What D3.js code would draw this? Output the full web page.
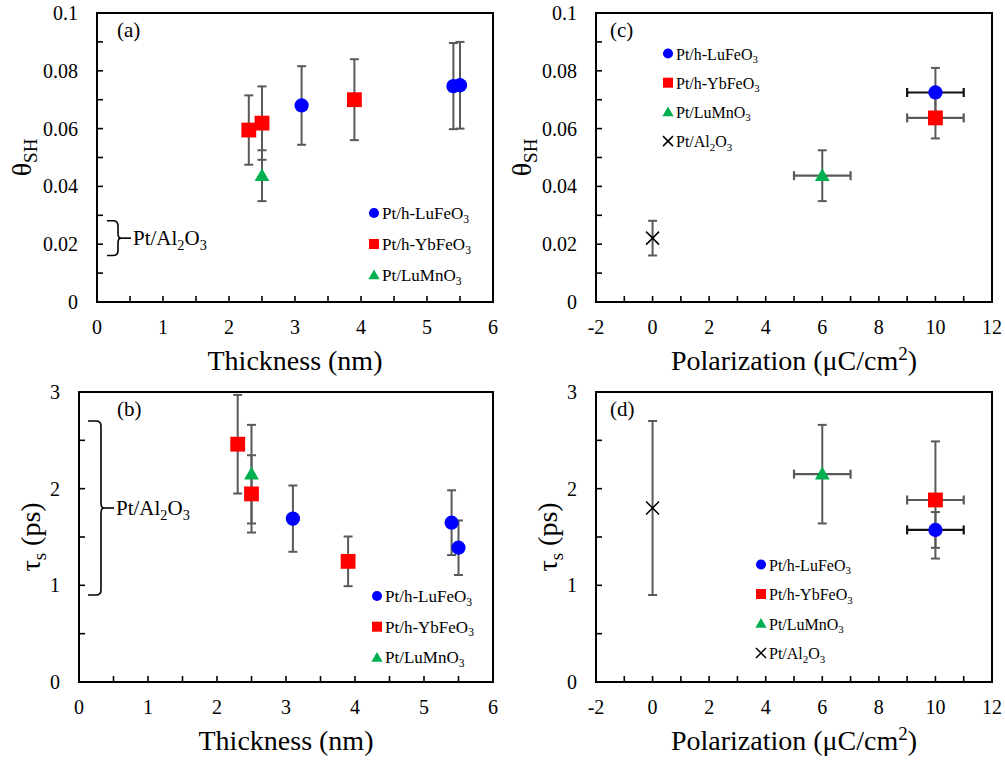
<!DOCTYPE html>
<html>
<head>
<meta charset="utf-8">
<script src="https://cdn.jsdelivr.net/npm/d3@7"></script>
<style>
  html, body { margin: 0; padding: 0; background: #fff; }
  svg text { font-family: "Liberation Serif", "Times New Roman", serif; fill: #000; }
</style>
</head>
<body>
<svg id="fig" width="1005" height="762" font-family="Liberation Serif, serif"></svg>
<script>
// ---- Thickness series (panels a and b) ----
const luThickness = [3.1, 5.4, 5.5];
const luTheta     = [0.068, 0.0747, 0.075];
const luThetaErr  = [0.0136, 0.0149, 0.015];
const luTau       = [1.69, 1.648, 1.389];
const luTauErr    = [0.343, 0.335, 0.282];

const ybThickness = [2.3, 2.5, 3.9];
const ybTheta     = [0.0595, 0.0619, 0.070];
const ybThetaErr  = [0.012, 0.0127, 0.014];
const ybTau       = [2.46, 1.946, 1.248];
const ybTauErr    = [0.51, 0.40, 0.257];

const lmThickness = [2.5];
const lmTheta     = [0.0437];
const lmThetaErr  = [0.0088];
const lmTau       = [2.15];
const lmTauErr    = [0.51];

// ---- Polarization series (panels c and d) ----
const polCategories = ["LuFeO", "YbFeO", "LuMnO", "AlO"];
const polValues   = [10, 10, 6, 0];
const polErr      = [1, 1, 1, 0];
const polTheta    = [0.0725, 0.0637, 0.0437, 0.0221];
const polThetaErr = [0.0085, 0.0071, 0.0088, 0.006];
const polTau      = [1.573, 1.883, 2.15, 1.80];
const polTauErr   = [0.185, 0.606, 0.51, 0.90];

// ---- Tick labels ----
const thicknessTicks = [0, 1, 2, 3, 4, 5, 6];
const polTicks       = [-2, 0, 2, 4, 6, 8, 10, 12];
const thetaTicks     = [0, 0.02, 0.04, 0.06, 0.08, 0.1];
const tauTicks       = [0, 1, 2, 3];

// Legend labels as alternating normal / subscript pieces
const legendLabels = {
  LuFeO: ["Pt/h-LuFeO", "3"],
  YbFeO: ["Pt/h-YbFeO", "3"],
  LuMnO: ["Pt/LuMnO", "3"],
  AlO:   ["Pt/Al", "2", "O", "3"]
};

const style = {
  LuFeO: { shape: "circle",   color: "#0000ff" },
  YbFeO: { shape: "square",   color: "#ff0000" },
  LuMnO: { shape: "triangle", color: "#00b050" },
  AlO:   { shape: "cross",    color: "#000000" }
};

const ERR = "#595959";
const svg = d3.select("#fig");
svg.append("rect").attr("width", 1005).attr("height", 762).attr("fill", "#fff");

function marker(g, key, x, y, big) {
  const s = style[key];
  if (s.shape === "cross") {
    const h = big ? 6.5 : 5;
    const p = d3.path();
    p.moveTo(x - h, y - h); p.lineTo(x + h, y + h);
    p.moveTo(x - h, y + h); p.lineTo(x + h, y - h);
    g.append("path").attr("d", p.toString()).attr("stroke", "#000")
      .attr("stroke-width", 1.5).attr("fill", "none");
    return;
  }
  const type = s.shape === "circle" ? d3.symbolCircle
             : s.shape === "square" ? d3.symbolSquare : d3.symbolTriangle;
  const size = s.shape === "circle" ? (big ? 160 : 80)
             : s.shape === "square" ? (big ? 220 : 100) : (big ? 95 : 55);
  g.append("path").attr("d", d3.symbol().type(type).size(size)())
    .attr("transform", `translate(${x},${y + (s.shape === "triangle" ? 1 : 0)})`)
    .attr("fill", s.color);
}

function richText(g, x, y, parts, size, anchor) {
  const t = g.append("text").attr("x", x).attr("y", y)
    .attr("font-size", size).attr("text-anchor", anchor || "start");
  parts.forEach((p, i) => {
    const ts = t.append("tspan").text(p);
    if (i % 2 === 1) { ts.attr("font-size", size * 0.68).attr("dy", size * 0.22); }
    else if (i > 0) { ts.attr("dy", -size * 0.22); }
  });
  return t;
}

function panel(cfg) {
  const { left, right, top, bottom } = cfg.frame;
  const x = d3.scaleLinear().domain(cfg.xDomain).range([left, right]);
  const y = d3.scaleLinear().domain(cfg.yDomain).range([bottom, top]);
  const g = svg.append("g");

  // inward ticks on left and bottom, with an unlabelled tick midway between labels
  const xt = cfg.xTicks, yt = cfg.yTicks;
  const xAll = [], yAll = [];
  xt.forEach((v, i) => { xAll.push(v); if (i < xt.length - 1) xAll.push((v + xt[i + 1]) / 2); });
  yt.forEach((v, i) => { yAll.push(v); if (i < yt.length - 1) yAll.push((v + yt[i + 1]) / 2); });
  xAll.forEach(v => g.append("line").attr("x1", x(v)).attr("x2", x(v))
    .attr("y1", bottom).attr("y2", bottom - 6).attr("stroke", "#000").attr("stroke-width", 1.6));
  yAll.forEach(v => g.append("line").attr("x1", left).attr("x2", left + 6)
    .attr("y1", y(v)).attr("y2", y(v)).attr("stroke", "#000").attr("stroke-width", 1.6));

  xt.forEach(v => g.append("text").attr("x", x(v)).attr("y", bottom + 32)
    .attr("text-anchor", "middle").attr("font-size", 20).text(v));
  yt.forEach(v => g.append("text").attr("x", left - 19).attr("y", y(v) + 7)
    .attr("text-anchor", "end").attr("font-size", 20).text(v));

  g.append("rect").attr("x", left).attr("y", top)
    .attr("width", right - left).attr("height", bottom - top)
    .attr("fill", "none").attr("stroke", "#000").attr("stroke-width", 2);

  // axis titles
  if (cfg.xTitle === "thickness") {
    g.append("text").attr("x", (left + right) / 2).attr("y", cfg.xTitleY)
      .attr("text-anchor", "middle").attr("font-size", 28).text("Thickness (nm)");
  } else {
    const t = g.append("text").attr("x", (left + right) / 2).attr("y", cfg.xTitleY)
      .attr("text-anchor", "middle").attr("font-size", 28);
    t.append("tspan").text("Polarization (\u03bcC/cm");
    t.append("tspan").text("2").attr("font-size", 19).attr("dy", -10);
    t.append("tspan").text(")").attr("dy", 10);
  }
  const yt0 = g.append("text")
    .attr("transform", `translate(${cfg.yTitleX},${(top + bottom) / 2}) rotate(-90)`)
    .attr("text-anchor", "middle").attr("font-size", 28);
  if (cfg.yTitle === "theta") {
    yt0.append("tspan").text("\u03b8");
    yt0.append("tspan").text("SH").attr("font-size", 19).attr("dy", 6);
  } else {
    yt0.append("tspan").text("\u03c4");
    yt0.append("tspan").text("s").attr("font-size", 19).attr("dy", 6);
    yt0.append("tspan").text(" (ps)").attr("dy", -6);
  }

  g.append("text").attr("x", left + cfg.tagDx).attr("y", top + 24)
    .attr("font-size", 21).text(cfg.tag);

  // error bars first, markers on top
  const eb = g.append("g"), mk = g.append("g");
  cfg.series.forEach(s => {
    s.xs.forEach((xv, i) => {
      const cx = x(xv), cy = y(s.ys[i]);
      const e = s.yErr[i];
      eb.append("line").attr("x1", cx).attr("x2", cx)
        .attr("y1", y(s.ys[i] - e)).attr("y2", y(s.ys[i] + e))
        .attr("stroke", ERR).attr("stroke-width", 2);
      [s.ys[i] - e, s.ys[i] + e].forEach(v => eb.append("line")
        .attr("x1", cx - 4.5).attr("x2", cx + 4.5).attr("y1", y(v)).attr("y2", y(v))
        .attr("stroke", ERR).attr("stroke-width", 2));
      if (s.xErr && s.xErr[i] > 0) {
        const xe = s.xErr[i];
        const col = s.key === "LuFeO" ? "#111" : ERR;
        eb.append("line").attr("x1", x(xv - xe)).attr("x2", x(xv + xe))
          .attr("y1", cy).attr("y2", cy).attr("stroke", col).attr("stroke-width", 2.2);
        [xv - xe, xv + xe].forEach(v => eb.append("line")
          .attr("x1", x(v)).attr("x2", x(v)).attr("y1", cy - 4.5).attr("y2", cy + 4.5)
          .attr("stroke", col).attr("stroke-width", 2.2));
      }
      marker(mk, s.key, cx, cy, true);
    });
  });

  // legend
  cfg.legend.keys.forEach((k, i) => {
    const ly = cfg.legend.y + i * cfg.legend.dy;
    marker(g, k, cfg.legend.x, ly, false);
    richText(g, cfg.legend.x + 8, ly + 6, legendLabels[k], cfg.legend.size);
  });

  // curly brace marking the Pt/Al2O3 reference range
  if (cfg.brace) {
    const b = cfg.brace;
    const yt1 = y(b.hi), yb1 = y(b.lo), ym = y((b.hi + b.lo) / 2);
    const x0 = left + b.dx0, x1 = left + b.dx1, xp = x1 + 3, r = 5;
    const p = d3.path();
    p.moveTo(x0, yt1); p.lineTo(x1 - r, yt1);
    p.quadraticCurveTo(x1, yt1, x1, yt1 + r);
    p.lineTo(x1, ym - r);
    p.quadraticCurveTo(x1, ym, xp, ym);
    p.quadraticCurveTo(x1, ym, x1, ym + r);
    p.lineTo(x1, yb1 - r);
    p.quadraticCurveTo(x1, yb1, x1 - r, yb1);
    p.lineTo(x0, yb1);
    g.append("path").attr("d", p.toString()).attr("fill", "none")
      .attr("stroke", "#000").attr("stroke-width", 1.6);
    g.append("line").attr("x1", xp).attr("x2", xp + 10).attr("y1", ym).attr("y2", ym)
      .attr("stroke", "#000").attr("stroke-width", 1.6);
    richText(g, xp + 12, ym + 7, ["Pt/Al", "2", "O", "3"], 21);
  }
}

const alIdx = polCategories.indexOf("AlO");

panel({
  tag: "(a)", tagDx: 20,
  frame: { left: 97, right: 493, top: 13, bottom: 302 },
  xDomain: [0, 6], yDomain: [0, 0.1], xTicks: thicknessTicks, yTicks: thetaTicks,
  xTitle: "thickness", xTitleY: 370, yTitle: "theta", yTitleX: 31,
  series: [
    { key: "YbFeO", xs: ybThickness, ys: ybTheta, yErr: ybThetaErr },
    { key: "LuMnO", xs: lmThickness, ys: lmTheta, yErr: lmThetaErr },
    { key: "LuFeO", xs: luThickness, ys: luTheta, yErr: luThetaErr }
  ],
  legend: { keys: ["LuFeO", "YbFeO", "LuMnO"], x: 374, y: 213, dy: 31, size: 17 },
  brace: { lo: polTheta[alIdx] - polThetaErr[alIdx], hi: polTheta[alIdx] + polThetaErr[alIdx], dx0: 10, dx1: 21 }
});

panel({
  tag: "(b)", tagDx: 38,
  frame: { left: 79, right: 493, top: 392, bottom: 682 },
  xDomain: [0, 6], yDomain: [0, 3], xTicks: thicknessTicks, yTicks: tauTicks,
  xTitle: "thickness", xTitleY: 750, yTitle: "tau", yTitleX: 40,
  series: [
    { key: "YbFeO", xs: ybThickness, ys: ybTau, yErr: ybTauErr },
    { key: "LuMnO", xs: lmThickness, ys: lmTau, yErr: lmTauErr },
    { key: "LuFeO", xs: luThickness, ys: luTau, yErr: luTauErr }
  ],
  legend: { keys: ["LuFeO", "YbFeO", "LuMnO"], x: 377, y: 596, dy: 30.7, size: 17 },
  brace: { lo: polTau[alIdx] - polTauErr[alIdx], hi: polTau[alIdx] + polTauErr[alIdx], dx0: 9, dx1: 22 }
});

const polSeries = (ys, es) => polCategories.map((k, i) => ({
  key: k, xs: [polValues[i]], xErr: [polErr[i]], ys: [ys[i]], yErr: [es[i]]
})).reverse();

panel({
  tag: "(c)", tagDx: 14,
  frame: { left: 596, right: 992, top: 13, bottom: 302 },
  xDomain: [-2, 12], yDomain: [0, 0.1], xTicks: polTicks, yTicks: thetaTicks,
  xTitle: "pol", xTitleY: 370, yTitle: "theta", yTitleX: 531,
  series: polSeries(polTheta, polThetaErr),
  legend: { keys: ["LuFeO", "YbFeO", "LuMnO", "AlO"], x: 668, y: 53.5, dy: 29.2, size: 16 },
  brace: null
});

panel({
  tag: "(d)", tagDx: 14,
  frame: { left: 596, right: 992, top: 392, bottom: 682 },
  xDomain: [-2, 12], yDomain: [0, 3], xTicks: polTicks, yTicks: tauTicks,
  xTitle: "pol", xTitleY: 750, yTitle: "tau", yTitleX: 557,
  series: polSeries(polTau, polTauErr),
  legend: { keys: ["LuFeO", "YbFeO", "LuMnO", "AlO"], x: 761, y: 564.5, dy: 29.5, size: 16 },
  brace: null
});
</script>
</body>
</html>
